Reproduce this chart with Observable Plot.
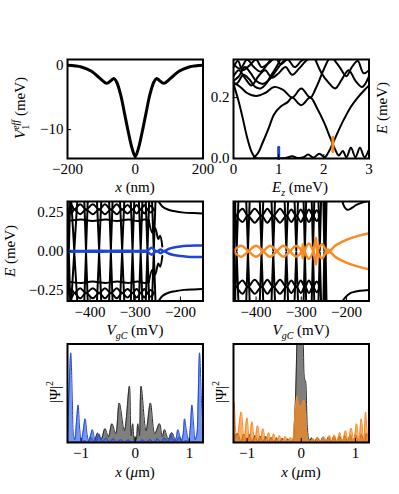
<!DOCTYPE html>
<html><head><meta charset="utf-8">
<script src="https://cdn.jsdelivr.net/npm/d3@7"></script>
<script src="https://cdn.jsdelivr.net/npm/@observablehq/plot@0.6"></script>
<style>
body{margin:0;background:#fff;}
#fig{position:relative;width:399px;height:494px;overflow:hidden;background:#fff;}
#fig svg{position:absolute;left:0;top:0;}
</style></head><body><div id="fig"></div>
<script>
// ---------- Panel A: effective potential ----------
const potential = [[-200,0],[-159,-0.26],[-129,-0.94],[-105,-2.0],[-84,-2.8],[-72,-2.4],[-63,-2.05],[-55,-2.6],[-43,-4.6],[-32,-7.4],[-20,-10.5],[-9,-13.0],[0,-14.2],[9,-13.0],[20,-10.5],[32,-7.4],[43,-4.6],[55,-2.6],[63,-2.05],[72,-2.4],[84,-2.8],[105,-2.0],[129,-0.94],[159,-0.26],[200,0]];
const potXTicks = [-200,0,200];
const potYTicks = [-10,0];

// ---------- Panel B: levels vs Ez ----------
const bLevel1 = [[0,0.244],[0.1,0.195],[0.2,0.135],[0.3,0.07],[0.4,0.022],[0.48,0.003],[0.6,0.0],[0.8,0.0],[1.0,0.001],[1.15,0.002],[1.3,0.007],[1.42,0.002],[1.55,0.004],[1.65,0.013],[1.77,0.003],[1.9,0.016],[2.02,0.004],[2.1,0.02],[2.2,0.05],[2.32,0.09],[2.45,0.13],[2.6,0.17],[2.75,0.2],[2.9,0.225],[3,0.24]];
const bLevel2 = [[0.45,0.002],[0.55,0.02],[0.64,0.05],[0.78,0.1],[0.9,0.145],[1.04,0.17],[1.2,0.185],[1.3,0.2],[1.5,0.175],[1.7,0.2],[1.85,0.165],[2.0,0.12],[2.15,0.065],[2.25,0.03],[2.33,0.01],[2.42,0.025],[2.5,0.004],[2.6,0.035],[2.7,0.004],[2.8,0.035],[2.9,0.004],[3,0.03]];
const bLevel3 = [[0,0.25],[0.15,0.235],[0.3,0.215],[0.5,0.205],[0.7,0.215],[0.9,0.235],[1.1,0.225],[1.3,0.2],[1.5,0.23],[1.7,0.2],[1.82,0.23],[1.95,0.275],[2.05,0.31],[2.12,0.33]];
const bLevel4 = [[0,0.27],[0.12,0.29],[0.25,0.265],[0.4,0.24],[0.55,0.27],[0.7,0.29],[0.85,0.265],[1.0,0.28],[1.15,0.3],[1.3,0.275],[1.45,0.295],[1.6,0.32],[1.7,0.33]];
const bLevel5 = [[0,0.3],[0.1,0.32],[0.2,0.29],[0.35,0.305],[0.5,0.325],[0.62,0.3],[0.75,0.31],[0.9,0.33]];
const bLevel6 = [[0,0.31],[0.15,0.295],[0.3,0.325],[0.45,0.3],[0.6,0.285],[0.75,0.31],[0.85,0.33]];
const bLevel7 = [[0.95,0.33],[1.05,0.31],[1.2,0.325],[1.35,0.3],[1.5,0.32],[1.6,0.33]];
const bLevel8 = [[1.8,0.33],[1.95,0.28],[2.1,0.25],[2.25,0.23],[2.4,0.26],[2.55,0.29],[2.7,0.255],[2.85,0.235],[3,0.27]];
const bLevel9 = [[2.2,0.33],[2.35,0.3],[2.5,0.27],[2.62,0.3],[2.75,0.32],[2.88,0.28],[3,0.29]];
const bLevel10 = [[0,0.255],[0.12,0.27],[0.25,0.3],[0.38,0.28],[0.5,0.255],[0.65,0.245],[0.8,0.26],[0.95,0.29],[1.08,0.315],[1.2,0.33]];
const bLevel11 = [[0,0.24],[0.1,0.25],[0.22,0.275],[0.35,0.26],[0.48,0.235],[0.6,0.23],[0.72,0.245],[0.82,0.27],[0.95,0.3],[1.05,0.33]];
const bMarkBlue = [[1.0,0.0],[1.0,0.037]];
const bMarkOrange = [[2.2,0.023],[2.2,0.07]];
const bXTicks = [0,1,2,3];
const bYTicks = [0,0.2];

// ---------- Panel C: spectrum vs VgC (blue) ----------
const cCross = [[-447,3],[-435,7],[-409,4],[-380,5],[-354,4],[-329,5],[-306,4],[-288,4],[-273,4],[-259,4]];
const cEyeUp = [[-447,0.27],[-441,0.3],[-435,0.27],[-422,0.305],[-409,0.27],[-394,0.305],[-380,0.27],[-367,0.305],[-354,0.27],[-341,0.305],[-329,0.27],[-317,0.3],[-306,0.27],[-297,0.3],[-288,0.27],[-280,0.3],[-273,0.27],[-266,0.295],[-259,0.27]];
const cEyeDn = [[-447,0.27],[-441,0.245],[-435,0.27],[-422,0.24],[-409,0.27],[-394,0.24],[-380,0.27],[-367,0.24],[-354,0.27],[-341,0.24],[-329,0.27],[-317,0.245],[-306,0.27],[-297,0.245],[-288,0.27],[-280,0.245],[-273,0.27],[-266,0.25],[-259,0.27]];
const cBand = [[-450,0.195],[-420,0.205],[-395,0.195],[-365,0.205],[-340,0.195],[-315,0.205],[-295,0.195],[-280,0.205],[-270,0.2]];
const cZig = [[-270,0.2],[-262,0.12],[-256,0.15],[-249,0.08],[-245,0.1],[-240,0.03]];
const cRight = [[-250,0.33],[-240,0.29],[-228,0.27],[-215,0.26],[-192,0.25],[-170,0.247],[-150,0.245]];
const cBlue = [[-450,0.003],[-420,0.001],[-390,0.004],[-360,0.002],[-330,0.004],[-300,0.002],[-280,0.004],[-273,0.004],[-264,0.022],[-255,0.002],[-251,0.0],[-244,0.012],[-237,0.0],[-225,0.016],[-215,0.024],[-200,0.031],[-185,0.035],[-170,0.037],[-150,0.038]];
const vgcTicks = [-400,-300,-200];
const eTicks = [-0.25,0,0.25];

// ---------- Panel D: spectrum vs VgC (orange) ----------
const dCross = [[-448,2],[-443,4],[-418,4],[-388,4],[-362,4],[-333,4],[-311,4],[-292,3],[-274,3],[-259,3],[-249,2],[-246,2]];
const dEyeUp = [[-443,0.23],[-430,0.275],[-418,0.23],[-403,0.275],[-388,0.23],[-375,0.275],[-362,0.23],[-347,0.275],[-333,0.23],[-322,0.27],[-311,0.23],[-301,0.27],[-292,0.23],[-283,0.27],[-274,0.23],[-266,0.265],[-259,0.23]];
const dEyeDn = [[-443,0.23],[-430,0.19],[-418,0.23],[-403,0.185],[-388,0.23],[-375,0.185],[-362,0.23],[-347,0.185],[-333,0.23],[-322,0.19],[-311,0.23],[-301,0.19],[-292,0.23],[-283,0.19],[-274,0.23],[-266,0.195],[-259,0.23]];
const dRightTop = [[-210,0.33],[-204,0.285],[-198,0.268],[-188,0.28],[-178,0.3],[-165,0.315],[-150,0.327]];
const dRightBot = [[-210,-0.33],[-203,-0.3],[-192,-0.272],[-170,-0.256],[-150,-0.25]];
const dOrange = [[-450,0],[-433,0.035],[-417,0],[-400,-0.035],[-384,0],[-369,0.035],[-354,0],[-340,-0.035],[-325,0],[-312,0.034],[-299,0],[-296.5,-0.045],[-293,0],[-283,0.05],[-273.5,0],[-267.5,-0.085],[-264,0],[-254,0.045],[-244.5,0],[-241,-0.012],[-237,0],[-225,0.035],[-210,0.06],[-190,0.085],[-170,0.103],[-150,0.117]];

// ---------- Panel E / F: |Psi|^2 ----------
const eGray = [[-1.25,0],[-1.06,0.01],[-1.0,0.003],[-0.94,0.02],[-0.88,0.005],[-0.818,0.05],[-0.756,0.015],[-0.695,0.095],[-0.627,0.035],[-0.559,0.14],[-0.495,0.06],[-0.43,0.19],[-0.36,0.09],[-0.294,0.4],[-0.2,0.12],[-0.108,0.57],[-0.077,0.07],[-0.047,0.19],[-0.02,0.03],[0,0.06],[0.02,0.03],[0.047,0.19],[0.077,0.07],[0.108,0.57],[0.2,0.12],[0.28,0.4],[0.36,0.09],[0.447,0.19],[0.5,0.06],[0.54,0.13],[0.61,0.035],[0.675,0.1],[0.75,0.015],[0.82,0.055],[0.88,0.005],[0.94,0.02],[1.0,0.003],[1.06,0.01],[1.25,0]];
const eBlue = [[-1.25,0.06],[-1.225,0.45],[-1.19,0.91],[-1.16,0.42],[-1.14,0.08],[-1.115,0.03],[-1.085,0.2],[-1.055,0.38],[-1.025,0.14],[-0.995,0.02],[-0.96,0.12],[-0.925,0.24],[-0.89,0.09],[-0.86,0.015],[-0.825,0.07],[-0.79,0.13],[-0.755,0.045],[-0.725,0.01],[-0.695,0.05],[-0.665,0.085],[-0.635,0.03],[-0.6,0.008],[-0.565,0.035],[-0.53,0.045],[-0.495,0.012],[-0.46,0.008],[-0.43,0.03],[-0.395,0.035],[-0.36,0.008],[-0.325,0.005],[-0.29,0.025],[-0.255,0.028],[-0.22,0.006],[-0.185,0.005],[-0.15,0.022],[-0.115,0.024],[-0.08,0.005],[-0.045,0.005],[-0.02,0.018],[0,0.02],[0.02,0.018],[0.045,0.005],[0.08,0.005],[0.115,0.024],[0.15,0.022],[0.185,0.005],[0.22,0.006],[0.255,0.028],[0.29,0.025],[0.325,0.005],[0.36,0.008],[0.395,0.035],[0.43,0.03],[0.46,0.008],[0.495,0.012],[0.53,0.045],[0.565,0.035],[0.6,0.008],[0.635,0.03],[0.65,0.085],[0.68,0.05],[0.72,0.01],[0.755,0.045],[0.786,0.13],[0.82,0.07],[0.855,0.015],[0.885,0.09],[0.91,0.24],[0.945,0.12],[0.985,0.02],[1.015,0.14],[1.045,0.38],[1.075,0.2],[1.105,0.03],[1.135,0.08],[1.16,0.42],[1.187,0.91],[1.22,0.45],[1.25,0.06]];
const fGray = [[-1.25,0.05],[-1.17,0.09],[-1.115,0.005],[-1.06,0.085],[-1.005,0.005],[-0.955,0.08],[-0.905,0.005],[-0.855,0.07],[-0.805,0.005],[-0.755,0.065],[-0.705,0.005],[-0.655,0.06],[-0.605,0.005],[-0.555,0.05],[-0.505,0.005],[-0.455,0.045],[-0.4,0.005],[-0.35,0.04],[-0.3,0.005],[-0.245,0.035],[-0.2,0.01],[-0.15,0.03],[-0.125,0.2],[-0.1,0.55],[-0.08,1.0],[-0.05,1.4],[-0.025,1.0],[-0.005,1.0],[0.015,1.4],[0.04,0.95],[0.06,0.65],[0.08,0.62],[0.1,0.35],[0.12,0.1],[0.15,0.02],[0.19,0.045],[0.245,0.005],[0.3,0.05],[0.35,0.005],[0.4,0.05],[0.455,0.005],[0.505,0.055],[0.555,0.005],[0.605,0.06],[0.655,0.005],[0.705,0.065],[0.755,0.005],[0.805,0.07],[0.855,0.005],[0.905,0.075],[0.955,0.005],[1.005,0.08],[1.055,0.005],[1.11,0.085],[1.16,0.005],[1.2,0.09],[1.25,0.05]];
const fOrange = [[-1.25,0.3],[-1.238,0.41],[-1.19,0.01],[-1.108,0.31],[-1.055,0.01],[-1.003,0.25],[-0.955,0.008],[-0.91,0.21],[-0.858,0.008],[-0.806,0.17],[-0.757,0.008],[-0.707,0.14],[-0.655,0.008],[-0.602,0.1],[-0.556,0.008],[-0.51,0.086],[-0.455,0.008],[-0.4,0.07],[-0.347,0.008],[-0.294,0.06],[-0.245,0.008],[-0.2,0.05],[-0.16,0.03],[-0.135,0.15],[-0.115,0.3],[-0.077,0.47],[-0.034,0.37],[0,0.37],[0.046,0.43],[0.077,0.3],[0.1,0.12],[0.125,0.03],[0.15,0.02],[0.175,0.008],[0.22,0.04],[0.265,0.008],[0.305,0.05],[0.36,0.008],[0.416,0.06],[0.47,0.008],[0.52,0.07],[0.565,0.008],[0.61,0.076],[0.66,0.008],[0.71,0.1],[0.76,0.008],[0.817,0.12],[0.865,0.008],[0.92,0.145],[0.97,0.01],[1.02,0.19],[1.065,0.01],[1.107,0.24],[1.155,0.01],[1.187,0.31],[1.225,0.02],[1.25,0.33]];
const umTicks = [-1,0,1];

// ---------- helpers ----------
const W = 399, H = 494;
const BLUE = "#1f45d8", ORANGE = "#fb8a22", BLUEFILL = "#3a6ae6";
const FONT = "'Liberation Serif', 'DejaVu Serif', serif";
const FS = 15;
const pts = a => a.map(([x, y]) => ({x, y}));
const multi = list => list.flatMap((a, k) => a.map(([x, y]) => ({x, y, k: String(k)})));
const neg = a => a.map(([x, y]) => [x, -y]);
const vShapes = (cross, top) => cross.flatMap(([v, h], k) => [
  {x: v - h, y: top, k: "t" + k}, {x: v, y: 0.006, k: "t" + k}, {x: v + h, y: top, k: "t" + k},
  {x: v - h, y: -top, k: "b" + k}, {x: v, y: -0.006, k: "b" + k}, {x: v + h, y: -top, k: "b" + k}
]);

function panel(fr, {xd, yd, xt, xf, yt, yf, marks}) {
  const axes = [];
  axes.push(Plot.axisX({ticks: xt, tickFormat: xf, tickSize: -4, tickPadding: 9, label: null, stroke: "black", fill: "black", fontSize: FS}));
  if (yt) axes.push(Plot.axisY({ticks: yt, tickFormat: yf, tickSize: -4, tickPadding: 8, label: null, stroke: "black", fill: "black", fontSize: FS}));
  const svg = Plot.plot({
    width: W, height: H,
    marginLeft: fr[0], marginRight: W - fr[1], marginTop: fr[2], marginBottom: H - fr[3],
    style: {fontFamily: FONT, fontSize: FS + "px", background: "transparent", overflow: "visible", color: "black"},
    x: {domain: xd, axis: null},
    y: {domain: yd, axis: null},
    marks: [...marks, ...axes, Plot.frame({stroke: "black", strokeWidth: 2})]
  });
  svg.setAttribute("font-family", FONT);
  return svg;
}

function label(svg, x, y, rotate, parts) {
  const t = d3.select(svg).append("text")
    .attr("transform", `translate(${x},${y}) rotate(${rotate})`)
    .attr("text-anchor", "middle").style("font-family", FONT).attr("font-size", FS).attr("fill", "black");
  for (const p of parts) {
    const s = t.append("tspan").text(p.t);
    if (p.i) s.attr("font-style", "italic");
    if (p.fs) s.attr("font-size", p.fs);
    if (p.dy) s.attr("dy", p.dy);
    if (p.dx) s.attr("dx", p.dx);
  }
}

const fig = document.getElementById("fig");
const fmtInt = d3.format("d"), fmt1 = d3.format(".1f"), fmt2 = d3.format(".2f");

// frames [left, right, top, bottom]
const frA = [67, 202.5, 59, 158], frB = [233, 368.5, 59, 158];
const frC = [67, 202.5, 201, 300.5], frD = [233, 368.5, 201, 300.5];
const frE = [67, 202.5, 343.5, 442], frF = [233, 368.5, 343.5, 442];

// Panel A
const svgA = panel(frA, {xd: [-200, 200], yd: [-14.5, 0.9], xt: potXTicks, xf: fmtInt, yt: potYTicks, yf: fmtInt,
  marks: [Plot.line(pts(potential), {x: "x", y: "y", stroke: "black", strokeWidth: 3, curve: "catmull-rom", clip: true})]});
fig.append(svgA);
label(svgA, 25, 108, -90, [{t: "V", i: 1}, {t: "1", fs: 10, dy: 4}, {t: "eff", fs: 10, i: 1, dy: -10, dx: -5}, {t: " (meV)", dy: 6}]);
label(svgA, 135, 192, 0, [{t: "x", i: 1}, {t: " (nm)"}]);

// Panel B
const bAll = multi([bLevel1, bLevel2, bLevel3, bLevel4, bLevel5, bLevel6, bLevel7, bLevel8, bLevel9, bLevel10, bLevel11]);
const svgB = panel(frB, {xd: [0, 3], yd: [0, 0.325], xt: bXTicks, xf: fmtInt, yt: bYTicks, yf: fmt1,
  marks: [
    Plot.line(bAll, {x: "x", y: "y", z: "k", stroke: "black", strokeWidth: 2, curve: "catmull-rom", clip: true}),
    Plot.line(pts(bMarkBlue), {x: "x", y: "y", stroke: BLUE, strokeWidth: 3}),
    Plot.line(pts(bMarkOrange), {x: "x", y: "y", stroke: ORANGE, strokeWidth: 3})
  ]});
fig.append(svgB);
label(svgB, 300, 192, 0, [{t: "E", i: 1}, {t: "z", i: 1, fs: 10, dy: 4}, {t: " (meV)", dy: -4}]);
label(svgB, 387, 108, -90, [{t: "E", i: 1}, {t: " (meV)"}]);

// Panel C
const cVert = vShapes(cCross, 0.34);
const cCurves = multi([cEyeUp, cEyeDn, cBand, cZig, cRight, neg(cEyeUp), neg(cEyeDn), neg(cBand), neg(cZig), neg(cRight)]);
const svgC = panel(frC, {xd: [-450, -150], yd: [-0.322, 0.322], xt: vgcTicks, xf: fmtInt, yt: eTicks, yf: fmt2,
  marks: [
    Plot.line(cVert, {x: "x", y: "y", z: "k", stroke: "black", strokeWidth: 2, clip: true}),
    Plot.line(cCurves, {x: "x", y: "y", z: "k", stroke: "black", strokeWidth: 2, curve: "catmull-rom", clip: true}),
    Plot.line(multi([cBlue, neg(cBlue)]), {x: "x", y: "y", z: "k", stroke: BLUE, strokeWidth: 2.5, curve: "catmull-rom", clip: true})
  ]});
fig.append(svgC);
label(svgC, 15, 251, -90, [{t: "E", i: 1}, {t: " (meV)"}]);
label(svgC, 135, 335, 0, [{t: "V", i: 1}, {t: "gC", i: 1, fs: 10, dy: 4}, {t: " (mV)", dy: -4}]);

// Panel D
const dVert = vShapes(dCross, 0.34);
const dCurves = multi([dEyeUp, dEyeDn, dRightTop, dRightBot, neg(dEyeUp), neg(dEyeDn)]);
const svgD = panel(frD, {xd: [-450, -150], yd: [-0.322, 0.322], xt: vgcTicks, xf: fmtInt,
  marks: [
    Plot.line(dVert, {x: "x", y: "y", z: "k", stroke: "black", strokeWidth: 2, clip: true}),
    Plot.line(dCurves, {x: "x", y: "y", z: "k", stroke: "black", strokeWidth: 2, curve: "catmull-rom", clip: true}),
    Plot.line(multi([dOrange, neg(dOrange)]), {x: "x", y: "y", z: "k", stroke: ORANGE, strokeWidth: 2.5, curve: "catmull-rom", clip: true})
  ]});
fig.append(svgD);
label(svgD, 301, 335, 0, [{t: "V", i: 1}, {t: "gC", i: 1, fs: 10, dy: 4}, {t: " (mV)", dy: -4}]);

// Panel E
const svgE = panel(frE, {xd: [-1.25, 1.25], yd: [0, 1], xt: umTicks, xf: fmtInt,
  marks: [
    Plot.areaY(pts(eGray), {x: "x", y: "y", fill: "black", fillOpacity: 0.5, curve: "catmull-rom", clip: true}),
    Plot.line(pts(eGray), {x: "x", y: "y", stroke: "#2b2b2b", strokeWidth: 1, curve: "catmull-rom", clip: true}),
    Plot.areaY(pts(eBlue), {x: "x", y: "y", fill: BLUEFILL, fillOpacity: 0.7, curve: "catmull-rom", clip: true}),
    Plot.line(pts(eBlue), {x: "x", y: "y", stroke: BLUE, strokeWidth: 1, curve: "catmull-rom", clip: true})
  ]});
fig.append(svgE);
label(svgE, 60, 392, -90, [{t: "|Ψ|"}, {t: "2", fs: 10, dy: -7}]);
label(svgE, 135, 477, 0, [{t: "x", i: 1}, {t: " ("}, {t: "μ", i: 1}, {t: "m)"}]);

// Panel F
const svgF = panel(frF, {xd: [-1.25, 1.25], yd: [0, 1], xt: umTicks, xf: fmtInt,
  marks: [
    Plot.areaY(pts(fGray), {x: "x", y: "y", fill: "black", fillOpacity: 0.5, curve: "catmull-rom", clip: true}),
    Plot.line(pts(fGray), {x: "x", y: "y", stroke: "#2b2b2b", strokeWidth: 1, curve: "catmull-rom", clip: true}),
    Plot.areaY(pts(fOrange), {x: "x", y: "y", fill: ORANGE, fillOpacity: 0.7, curve: "catmull-rom", clip: true}),
    Plot.line(pts(fOrange), {x: "x", y: "y", stroke: ORANGE, strokeWidth: 1, curve: "catmull-rom", clip: true})
  ]});
fig.append(svgF);
label(svgF, 226, 392, -90, [{t: "|Ψ|"}, {t: "2", fs: 10, dy: -7}]);
label(svgF, 301, 477, 0, [{t: "x", i: 1}, {t: " ("}, {t: "μ", i: 1}, {t: "m)"}]);
</script></body></html>
